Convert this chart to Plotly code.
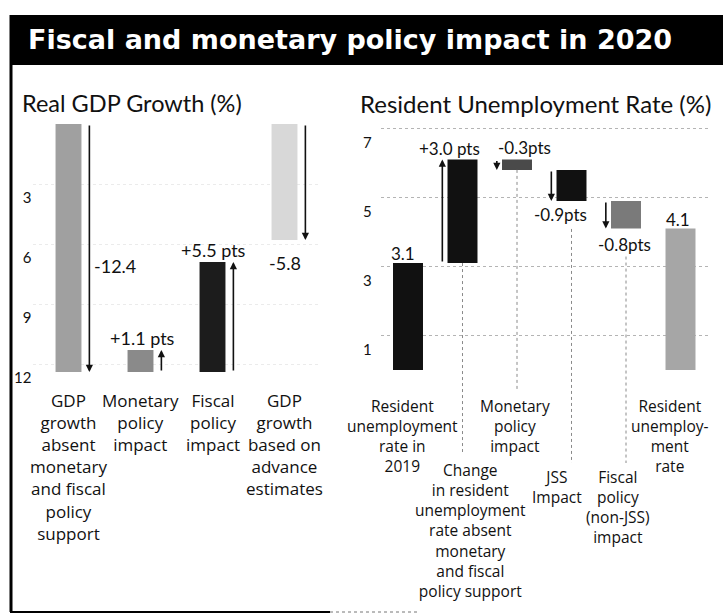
import plotly.graph_objects as go

W, H = 723, 615

# ---------------- data ----------------
gdp_categories = [
    "GDP<br>growth<br>absent<br>monetary<br>and fiscal<br>policy<br>support",
    "Monetary<br>policy<br>impact",
    "Fiscal<br>policy<br>impact",
    "GDP<br>growth<br>based on<br>advance<br>estimates",
]
gdp_values = [-12.4, 1.1, 5.5, -5.8]
gdp_is_change = [False, True, True, False]
gdp_value_labels = ["-12.4", "+1.1 pts", "+5.5 pts", "-5.8"]
gdp_tick_values = [-3, -6, -9, -12]
gdp_tick_labels = ["3", "6", "9", "12"]

unemp_categories = [
    "Resident<br>unemployment<br>rate in<br>2019",
    "Change<br>in resident<br>unemployment<br>rate absent<br>monetary<br>and fiscal<br>policy support",
    "Monetary<br>policy<br>impact",
    "JSS<br>Impact",
    "Fiscal<br>policy<br>(non-JSS)<br>impact",
    "Resident<br>unemploy-<br>ment<br>rate",
]
unemp_values = [3.1, 3.0, -0.3, -0.9, -0.8, 4.1]
unemp_is_change = [False, True, True, True, True, False]
unemp_value_labels = ["3.1", "+3.0 pts", "-0.3pts", "-0.9pts", "-0.8pts", "4.1"]
unemp_tick_values = [1, 3, 5, 7]
unemp_tick_labels = ["1", "3", "5", "7"]

# ---------------- styling ----------------
FONT = "Lato"
LABEL_FONT = "Open Sans"
TITLE_FONT = "DejaVu Sans"
gdp_colors = ["#a0a0a0", "#8a8a8a", "#1c1c1c", "#d8d8d8"]
unemp_colors = ["#111111", "#111111", "#4a4a4a", "#111111", "#7a7a7a", "#a6a6a6"]

# axis geometry (paper fractions)
gdp_xdom = [32.5 / W, 320.5 / W]
gdp_ydom = [1 - 376 / H, 1 - 124 / H]
gdp_yrange = [-12.6, 0]
un_xdom = [380.75 / W, 707.75 / W]
un_ydom = [1 - 370 / H, 1 - 118.15 / H]
un_yrange = [0, 7.3]

GDP_BAR_W = 0.36
UN_BAR_W = 0.55
GDP_ARROW_DX = 0.29
UN_ARROW_DX = -0.37


def px_x(p):
    return p / W


def px_y(p):
    return 1 - p / H


def un_to_paper(v):
    f = (v - un_yrange[0]) / (un_yrange[1] - un_yrange[0])
    return un_ydom[0] + f * (un_ydom[1] - un_ydom[0])


# bar bases: change bars on the GDP side rise from the floor of the first bar,
# the unemployment side is a running waterfall
gdp_x = list(range(len(gdp_values)))
gdp_base = [gdp_values[0] if c else 0 for c in gdp_is_change]

un_x = list(range(len(unemp_values)))
un_base = []
level = 0.0
for v, c in zip(unemp_values, unemp_is_change):
    if c:
        un_base.append(level)
        level += v
    else:
        un_base.append(0.0)
        level = v

fig = go.Figure()
fig.add_trace(go.Bar(
    x=gdp_x, y=gdp_values, base=gdp_base, width=GDP_BAR_W,
    marker=dict(color=gdp_colors, line=dict(width=0)),
    xaxis="x", yaxis="y", showlegend=False, hoverinfo="skip",
))
fig.add_trace(go.Bar(
    x=un_x, y=unemp_values, base=un_base, width=UN_BAR_W,
    marker=dict(color=unemp_colors, line=dict(width=0)),
    xaxis="x2", yaxis="y2", showlegend=False, hoverinfo="skip",
))

ann = []
shapes = []

# arrows beside each bar, pointing from base to end
for i, (b, v) in enumerate(zip(gdp_base, gdp_values)):
    ann.append(dict(
        x=i + GDP_ARROW_DX, y=b + v, ax=i + GDP_ARROW_DX, ay=b,
        xref="x", yref="y", axref="x", ayref="y", text="",
        showarrow=True, arrowhead=2, arrowsize=0.9, arrowwidth=1.6,
        arrowcolor="#111", standoff=0, startstandoff=0,
    ))
for i, (b, v, c) in enumerate(zip(un_base, unemp_values, unemp_is_change)):
    if not c:
        continue
    ann.append(dict(
        x=i + UN_ARROW_DX, y=b + v, ax=i + UN_ARROW_DX, ay=b,
        xref="x2", yref="y2", axref="x2", ayref="y2", text="",
        showarrow=True, arrowhead=2, arrowsize=0.9, arrowwidth=1.6,
        arrowcolor="#111", standoff=0, startstandoff=0,
    ))

# value labels: (anchor value, xanchor, x offset in units, xshift, yshift)
gdp_label_place = [
    ("mid", "left", GDP_ARROW_DX, 3, -18),
    ("end", "center", 0, 2, 12),
    ("end", "center", 0, 1, 12),
    ("end", "center", 0, 0, -23),
]
for i, (b, v, t, p) in enumerate(zip(gdp_base, gdp_values, gdp_value_labels, gdp_label_place)):
    where, xa, dx, xs, ys = p
    yv = b + v / 2 if where == "mid" else b + v
    ann.append(dict(
        x=i + dx, y=yv, xref="x", yref="y", text=t, showarrow=False,
        xanchor=xa, yanchor="middle", xshift=xs, yshift=ys,
        font=dict(family=FONT, size=18, color="#111"),
    ))

un_label_place = [
    ("end", "center", 0, -5, 10),
    ("end", "right", UN_BAR_W / 2, 5, 11),
    ("base", "left", -UN_BAR_W / 2, -6, 12),
    ("end", "right", UN_BAR_W / 2, 3, -14),
    ("end", "center", 0, -2, -16),
    ("end", "center", 0, -3, 9),
]
for i, (b, v, t, p) in enumerate(zip(un_base, unemp_values, unemp_value_labels, un_label_place)):
    where, xa, dx, xs, ys = p
    yv = b if where == "base" else b + v
    ann.append(dict(
        x=i + dx, y=yv, xref="x2", yref="y2", text=t, showarrow=False,
        xanchor=xa, yanchor="middle", xshift=xs, yshift=ys,
        font=dict(family=FONT, size=17, color="#111"),
    ))

# category labels below the bars
for i, t in enumerate(gdp_categories):
    ann.append(dict(
        x=i, y=px_y(387), xref="x", yref="paper", text=t, showarrow=False,
        xanchor="center", yanchor="top", align="center",
        font=dict(family=LABEL_FONT, size=17, color="#111"),
    ))

# (top of label block in px, horizontal shift)
un_cat_place = [(393, -6), (457, 8), (393, -2), (464, -15), (464, -8), (393, -11)]
for i, (t, (top, xs)) in enumerate(zip(unemp_categories, un_cat_place)):
    ann.append(dict(
        x=i, y=px_y(top), xref="x2", yref="paper", text=t, showarrow=False,
        xanchor="center", yanchor="top", align="center", xshift=xs,
        font=dict(family=LABEL_FONT, size=15.5, color="#111"),
    ))

# dotted leader lines from the change bars down to their labels
leaders = [(1, "base", 0, 452), (2, "end", 0, 390), (3, "end", -28, 463), (4, "end", -28, 463)]
for i, where, gap_px, bottom in leaders:
    v = un_base[i] if where == "base" else un_base[i] + unemp_values[i]
    y_top = un_to_paper(v) + gap_px / H
    shapes.append(dict(
        type="line", xref="x2", yref="paper", x0=i, x1=i,
        y0=y_top, y1=px_y(bottom),
        line=dict(color="#8a8a8a", width=1, dash="dot"),
    ))

# title bar, frame and panel headings
shapes.append(dict(type="rect", xref="paper", yref="paper",
                   x0=px_x(10), x1=1.0, y0=px_y(65), y1=px_y(15),
                   fillcolor="#000", line=dict(width=0), layer="below"))
shapes.append(dict(type="line", xref="paper", yref="paper",
                   x0=px_x(11), x1=px_x(11), y0=px_y(15), y1=px_y(612),
                   line=dict(color="#000", width=3)))
shapes.append(dict(type="line", xref="paper", yref="paper",
                   x0=px_x(10), x1=px_x(330), y0=px_y(612), y1=px_y(612),
                   line=dict(color="#000", width=2)))
shapes.append(dict(type="line", xref="paper", yref="paper",
                   x0=px_x(330), x1=px_x(420), y0=px_y(612), y1=px_y(612),
                   line=dict(color="#777", width=1, dash="dot")))

ann.append(dict(
    x=px_x(26), y=px_y(39), xref="paper", yref="paper",
    text="<b>Fiscal and monetary policy impact in 2020</b>", showarrow=False,
    xanchor="left", yanchor="middle",
    font=dict(family=TITLE_FONT, size=27, color="#fff"),
))
ann.append(dict(
    x=px_x(20), y=px_y(103), xref="paper", yref="paper",
    text="Real GDP Growth (%)", showarrow=False, xanchor="left", yanchor="middle",
    font=dict(family=FONT, size=23.5, color="#111"),
))
ann.append(dict(
    x=px_x(358), y=px_y(103), xref="paper", yref="paper",
    text="Resident Unemployment Rate (%)", showarrow=False, xanchor="left", yanchor="middle",
    font=dict(family=FONT, size=24, color="#111"),
))

tick_font = dict(family=FONT, size=15, color="#111")
fig.update_layout(
    width=W, height=H, margin=dict(l=0, r=0, t=0, b=0, pad=0, autoexpand=False),
    paper_bgcolor="#fff", plot_bgcolor="rgba(0,0,0,0)",
    barmode="overlay", showlegend=False,
    xaxis=dict(domain=gdp_xdom, range=[-0.5, 3.5], showticklabels=False, automargin=False,
               showgrid=False, zeroline=False, showline=False, fixedrange=True),
    yaxis=dict(domain=gdp_ydom, range=gdp_yrange, tickvals=gdp_tick_values,
               ticktext=gdp_tick_labels, tickfont=tick_font, ticks="", automargin=False,
               ticklabelshift=14, ticklabelstandoff=0,
               showgrid=True, gridcolor="#ebebeb", griddash="dot", gridwidth=1,
               zeroline=False, showline=False),
    xaxis2=dict(domain=un_xdom, range=[-0.5, 5.5], anchor="y2", automargin=False,
                showticklabels=False, showgrid=False, zeroline=False, showline=False),
    yaxis2=dict(domain=un_ydom, range=un_yrange, anchor="x2", automargin=False,
                tickvals=unemp_tick_values, ticktext=unemp_tick_labels,
                tickfont=tick_font, ticks="", ticklabelshift=14, ticklabelstandoff=8,
                showgrid=True, gridcolor="#b4b4b4", griddash="dot", gridwidth=1,
                zeroline=False, showline=False),
    annotations=ann, shapes=shapes,
)

fig.write_html("out.html")
